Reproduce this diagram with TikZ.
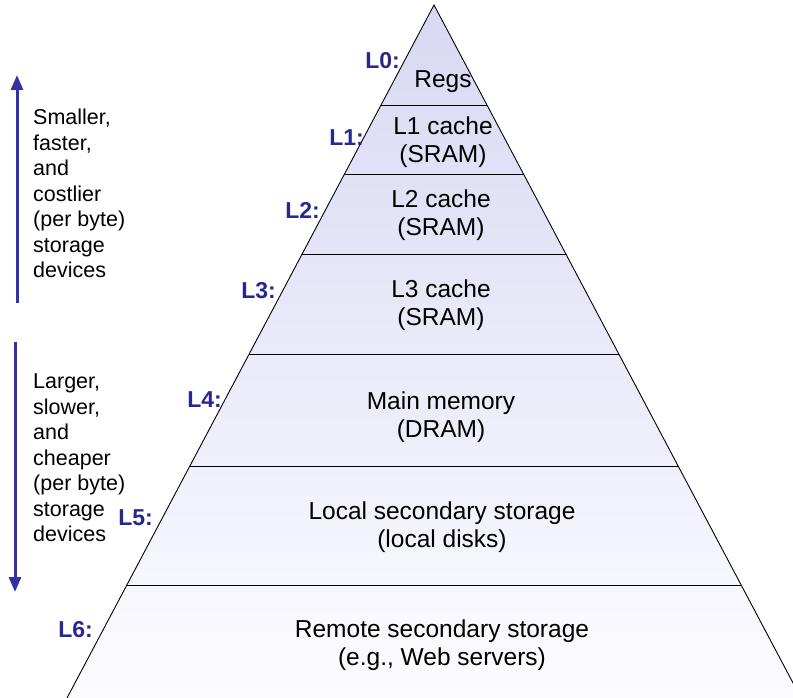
\documentclass[tikz,border=0pt]{standalone}
\usepackage{fontspec}
\setmainfont{Liberation Sans}
\usetikzlibrary{arrows.meta,positioning,calc}
\definecolor{levelBlue}{RGB}{40,40,140}
\definecolor{arrowBlue}{RGB}{50,50,165}
\definecolor{topLavender}{RGB}{216,216,243}
\definecolor{bottomWhite}{RGB}{252,252,255}

\begin{document}
\begin{tikzpicture}[x=1pt, y=-1pt,
		every node/.style={inner sep=0pt},
		layerText/.style={align=center, font=\fontsize{24.5}{28}\selectfont},
		levelLabel/.style={anchor=east, text=levelBlue, font=\fontsize{23}{28}\selectfont\bfseries},
		sideText/.style={anchor=north west, align=left, font=\fontsize{21.5}{25.5}\selectfont},
		sideArrow/.style={draw=arrowBlue, line width=3pt, -{Triangle[length=15pt,width=12pt]}},
		layerLine/.style={line width=0.9pt}
	]
	\useasboundingbox (0,0) rectangle (793,698);

	% Pyramid
	\coordinate (apex) at (434,5);
	\coordinate (baseL) at (67,698);
	\coordinate (baseR) at (801,698);
	\shade[top color=topLavender, bottom color=bottomWhite] (apex) -- (baseL) -- (baseR) -- cycle;
	\draw[layerLine] (baseL) -- (apex) -- (baseR);
	% Layer boundaries
	\foreach \t in {0.1443,0.2439,0.3593,0.5036,0.6652,0.8369}
		\draw[layerLine] ($(apex)!\t!(baseL)$) -- ($(apex)!\t!(baseR)$);

	% Layer contents
	\node[layerText] (regs) at (443,82) {Regs};
	\node[layerText] (l1cache) at (443,142) {L1 cache\\(SRAM)};
	\node[layerText] (l2cache) at (441,215) {L2 cache\\(SRAM)};
	\node[layerText] (l3cache) at (441,305) {L3 cache\\(SRAM)};
	\node[layerText] (mainMem) at (441,417) {Main memory\\(DRAM)};
	\node[layerText] (localDisk) at (442,527) {Local secondary storage\\(local disks)};
	\node[layerText] (remote) at (442,645) {Remote secondary storage\\(e.g., Web servers)};

	% Level labels
	\node[levelLabel] (lv0) at (400,61) {L0:};
	\node[levelLabel] (lv1) at (364,138) {L1:};
	\node[levelLabel] (lv2) at (320,210) {L2:};
	\node[levelLabel] (lv3) at (276,291) {L3:};
	\node[levelLabel] (lv4) at (222,400) {L4:};
	\node[levelLabel] (lv5) at (153,518) {L5:};
	\node[levelLabel] (lv6) at (93,630) {L6:};

	% Side arrows and notes
	\coordinate (upStart) at (17,303);
	\coordinate (upEnd) at (17,75);
	\coordinate (downStart) at (15,342);
	\coordinate (downEnd) at (15,592);
	\draw[sideArrow] (upStart) -- (upEnd);
	\draw[sideArrow] (downStart) -- (downEnd);
	\node[sideText] (upNote) at (33,109) {Smaller,\\faster,\\and\\costlier\\(per byte)\\storage\\devices};
	\node[sideText] (downNote) at (33,374) {Larger,\\slower,\\and\\cheaper\\(per byte)\\storage\\devices};
\end{tikzpicture}
\end{document}
